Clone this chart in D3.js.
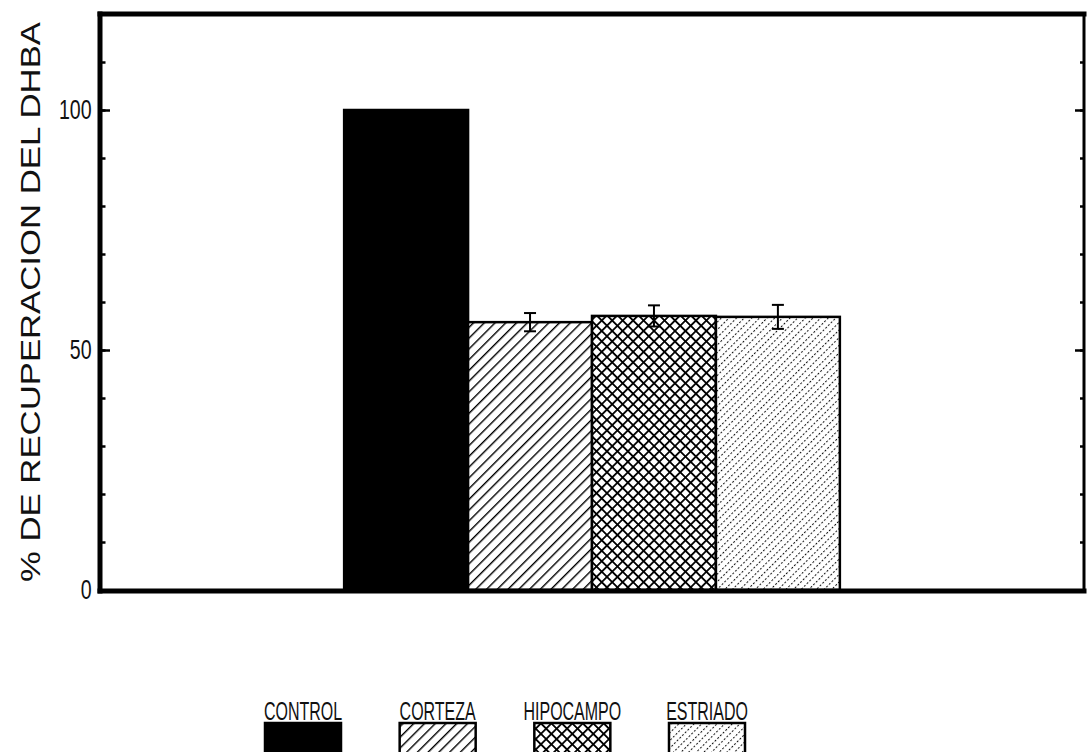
<!DOCTYPE html>
<html>
<head>
<meta charset="utf-8">
<script src="https://cdn.jsdelivr.net/npm/d3@7"></script>
<style>
  body { margin: 0; background: #fff; }
  svg { display: block; font-family: "Liberation Sans", Arial, sans-serif; }
</style>
</head>
<body>
<svg id="chart" width="1087" height="752"></svg>
<script>
// data
var categories = ["CONTROL", "CORTEZA", "HIPOCAMPO", "ESTRIADO"];
var values = [100, 55.8, 57.1, 56.9];
var errors = [0, 1.9, 2.2, 2.5];
var fills = ["black", "url(#hatch)", "url(#cross)", "url(#dots)"];
var majorTicks = [0, 50, 100];
var minorTicks = d3.range(0, 121, 10);
var yLabel = "% DE RECUPERACION DEL DHBA";

var W = 1087, H = 752;
var m = {left: 100, right: 1084, top: 14, bottom: 590};

var svg = d3.select("#chart");

// fill patterns
var defs = svg.append("defs");
var hatch = defs.append("pattern").attr("id", "hatch")
  .attr("patternUnits", "userSpaceOnUse")
  .attr("width", 7.6).attr("height", 7.6)
  .attr("patternTransform", "rotate(45)");
hatch.append("rect").attr("width", 7.6).attr("height", 7.6).attr("fill", "#fff");
hatch.append("line").attr("x1", 0).attr("y1", 0).attr("x2", 0).attr("y2", 7.6)
  .attr("stroke", "#000").attr("stroke-width", 2.8);

var cross = defs.append("pattern").attr("id", "cross")
  .attr("patternUnits", "userSpaceOnUse")
  .attr("width", 7.4).attr("height", 7.4)
  .attr("patternTransform", "rotate(45)");
cross.append("rect").attr("width", 7.4).attr("height", 7.4).attr("fill", "#fff");
cross.append("path").attr("d", "M0,0V7.4M0,0H7.4")
  .attr("stroke", "#000").attr("stroke-width", 3.6);

var dots = defs.append("pattern").attr("id", "dots")
  .attr("patternUnits", "userSpaceOnUse")
  .attr("width", 5.4).attr("height", 3.8)
  .attr("patternTransform", "rotate(45)");
dots.append("rect").attr("width", 5.4).attr("height", 3.8).attr("fill", "#fff");
dots.append("rect").attr("x", -1).attr("y", 0).attr("width", 2).attr("height", 2)
  .attr("fill", "#111");

// scales
var x = d3.scaleBand().domain(categories).range([m.left, m.right])
  .paddingInner(0).paddingOuter(1.97);
var y = d3.scaleLinear().domain([0, 120]).range([m.bottom, m.top]);

// bars
svg.append("g").selectAll("rect").data(categories).join("rect")
  .attr("x", function(d) { return x(d); })
  .attr("y", function(d, i) { return y(values[i]); })
  .attr("width", x.bandwidth())
  .attr("height", function(d, i) { return y(0) - y(values[i]); })
  .attr("fill", function(d, i) { return fills[i]; })
  .attr("stroke", "#000").attr("stroke-width", 2.5);

// error bars
var eb = svg.append("g").attr("stroke", "#000").attr("stroke-width", 2)
  .selectAll("g").data(categories.filter(function(d, i) { return errors[i] > 0; })).join("g");
eb.append("line")
  .attr("x1", function(d) { return x(d) + x.bandwidth() / 2; })
  .attr("x2", function(d) { return x(d) + x.bandwidth() / 2; })
  .attr("y1", function(d) { var i = categories.indexOf(d); return y(values[i] + errors[i]); })
  .attr("y2", function(d) { var i = categories.indexOf(d); return y(values[i] - errors[i]); });
[1, -1].forEach(function(s) {
  eb.append("line")
    .attr("x1", function(d) { return x(d) + x.bandwidth() / 2 - 6; })
    .attr("x2", function(d) { return x(d) + x.bandwidth() / 2 + 6; })
    .attr("y1", function(d) { var i = categories.indexOf(d); return y(values[i] + s * errors[i]); })
    .attr("y2", function(d) { var i = categories.indexOf(d); return y(values[i] + s * errors[i]); });
});

// axes: ticks point inward on both sides
function styleAxis(g) {
  g.select(".domain").remove();
  g.selectAll(".tick line").attr("stroke", "#000").attr("stroke-width", 2.5);
}
svg.append("g").attr("transform", "translate(" + m.left + ",0)")
  .call(d3.axisLeft(y).tickValues(minorTicks).tickSize(-5.5).tickFormat(""))
  .call(styleAxis);
svg.append("g").attr("transform", "translate(" + m.right + ",0)")
  .call(d3.axisRight(y).tickValues(minorTicks).tickSize(-4).tickFormat(""))
  .call(styleAxis);
svg.append("g").attr("transform", "translate(" + m.right + ",0)")
  .call(d3.axisRight(y).tickValues(majorTicks).tickSize(-9).tickFormat(""))
  .call(styleAxis);
var yAxis = svg.append("g").attr("transform", "translate(" + m.left + ",0)")
  .call(d3.axisLeft(y).tickValues(majorTicks).tickSize(-10).tickPadding(12))
  .call(styleAxis);
yAxis.selectAll(".tick text")
  .style("font-family", "Liberation Sans, Arial, sans-serif")
  .style("font-size", "28px").attr("fill", "#111")
  .attr("transform", "scale(0.7,1)");

// frame
var frame = svg.append("g").attr("stroke", "#000").attr("stroke-linecap", "square");
frame.append("line").attr("x1", m.left).attr("x2", m.right).attr("y1", m.top).attr("y2", m.top).attr("stroke-width", 5);
frame.append("line").attr("x1", m.left).attr("x2", m.right).attr("y1", m.bottom + 1).attr("y2", m.bottom + 1).attr("stroke-width", 5);
frame.append("line").attr("x1", m.left).attr("x2", m.left).attr("y1", m.top).attr("y2", m.bottom + 1).attr("stroke-width", 5);
frame.append("line").attr("x1", m.right).attr("x2", m.right).attr("y1", m.top).attr("y2", m.bottom + 1).attr("stroke-width", 3);

// y label
svg.append("text")
  .attr("transform", "translate(40," + (m.top + m.bottom) / 2 + ") rotate(-90)")
  .attr("text-anchor", "middle")
  .attr("font-size", 27).attr("fill", "#111")
  .attr("textLength", 560).attr("lengthAdjust", "spacingAndGlyphs")
  .text(yLabel);

// legend
var lx = d3.scalePoint().domain(categories).range([303, 707]);
var leg = svg.append("g").selectAll("g").data(categories).join("g")
  .attr("transform", function(d) { return "translate(" + lx(d) + ",0)"; });
leg.append("text")
  .attr("transform", "translate(0,720) scale(0.64,1)")
  .attr("text-anchor", "middle")
  .style("font-size", "25px").attr("fill", "#111")
  .text(function(d) { return d; });
leg.append("rect")
  .attr("x", -38).attr("y", 723).attr("width", 76).attr("height", 34)
  .attr("fill", function(d, i) { return fills[i]; })
  .attr("stroke", "#000").attr("stroke-width", 2.5);
</script>
</body>
</html>
